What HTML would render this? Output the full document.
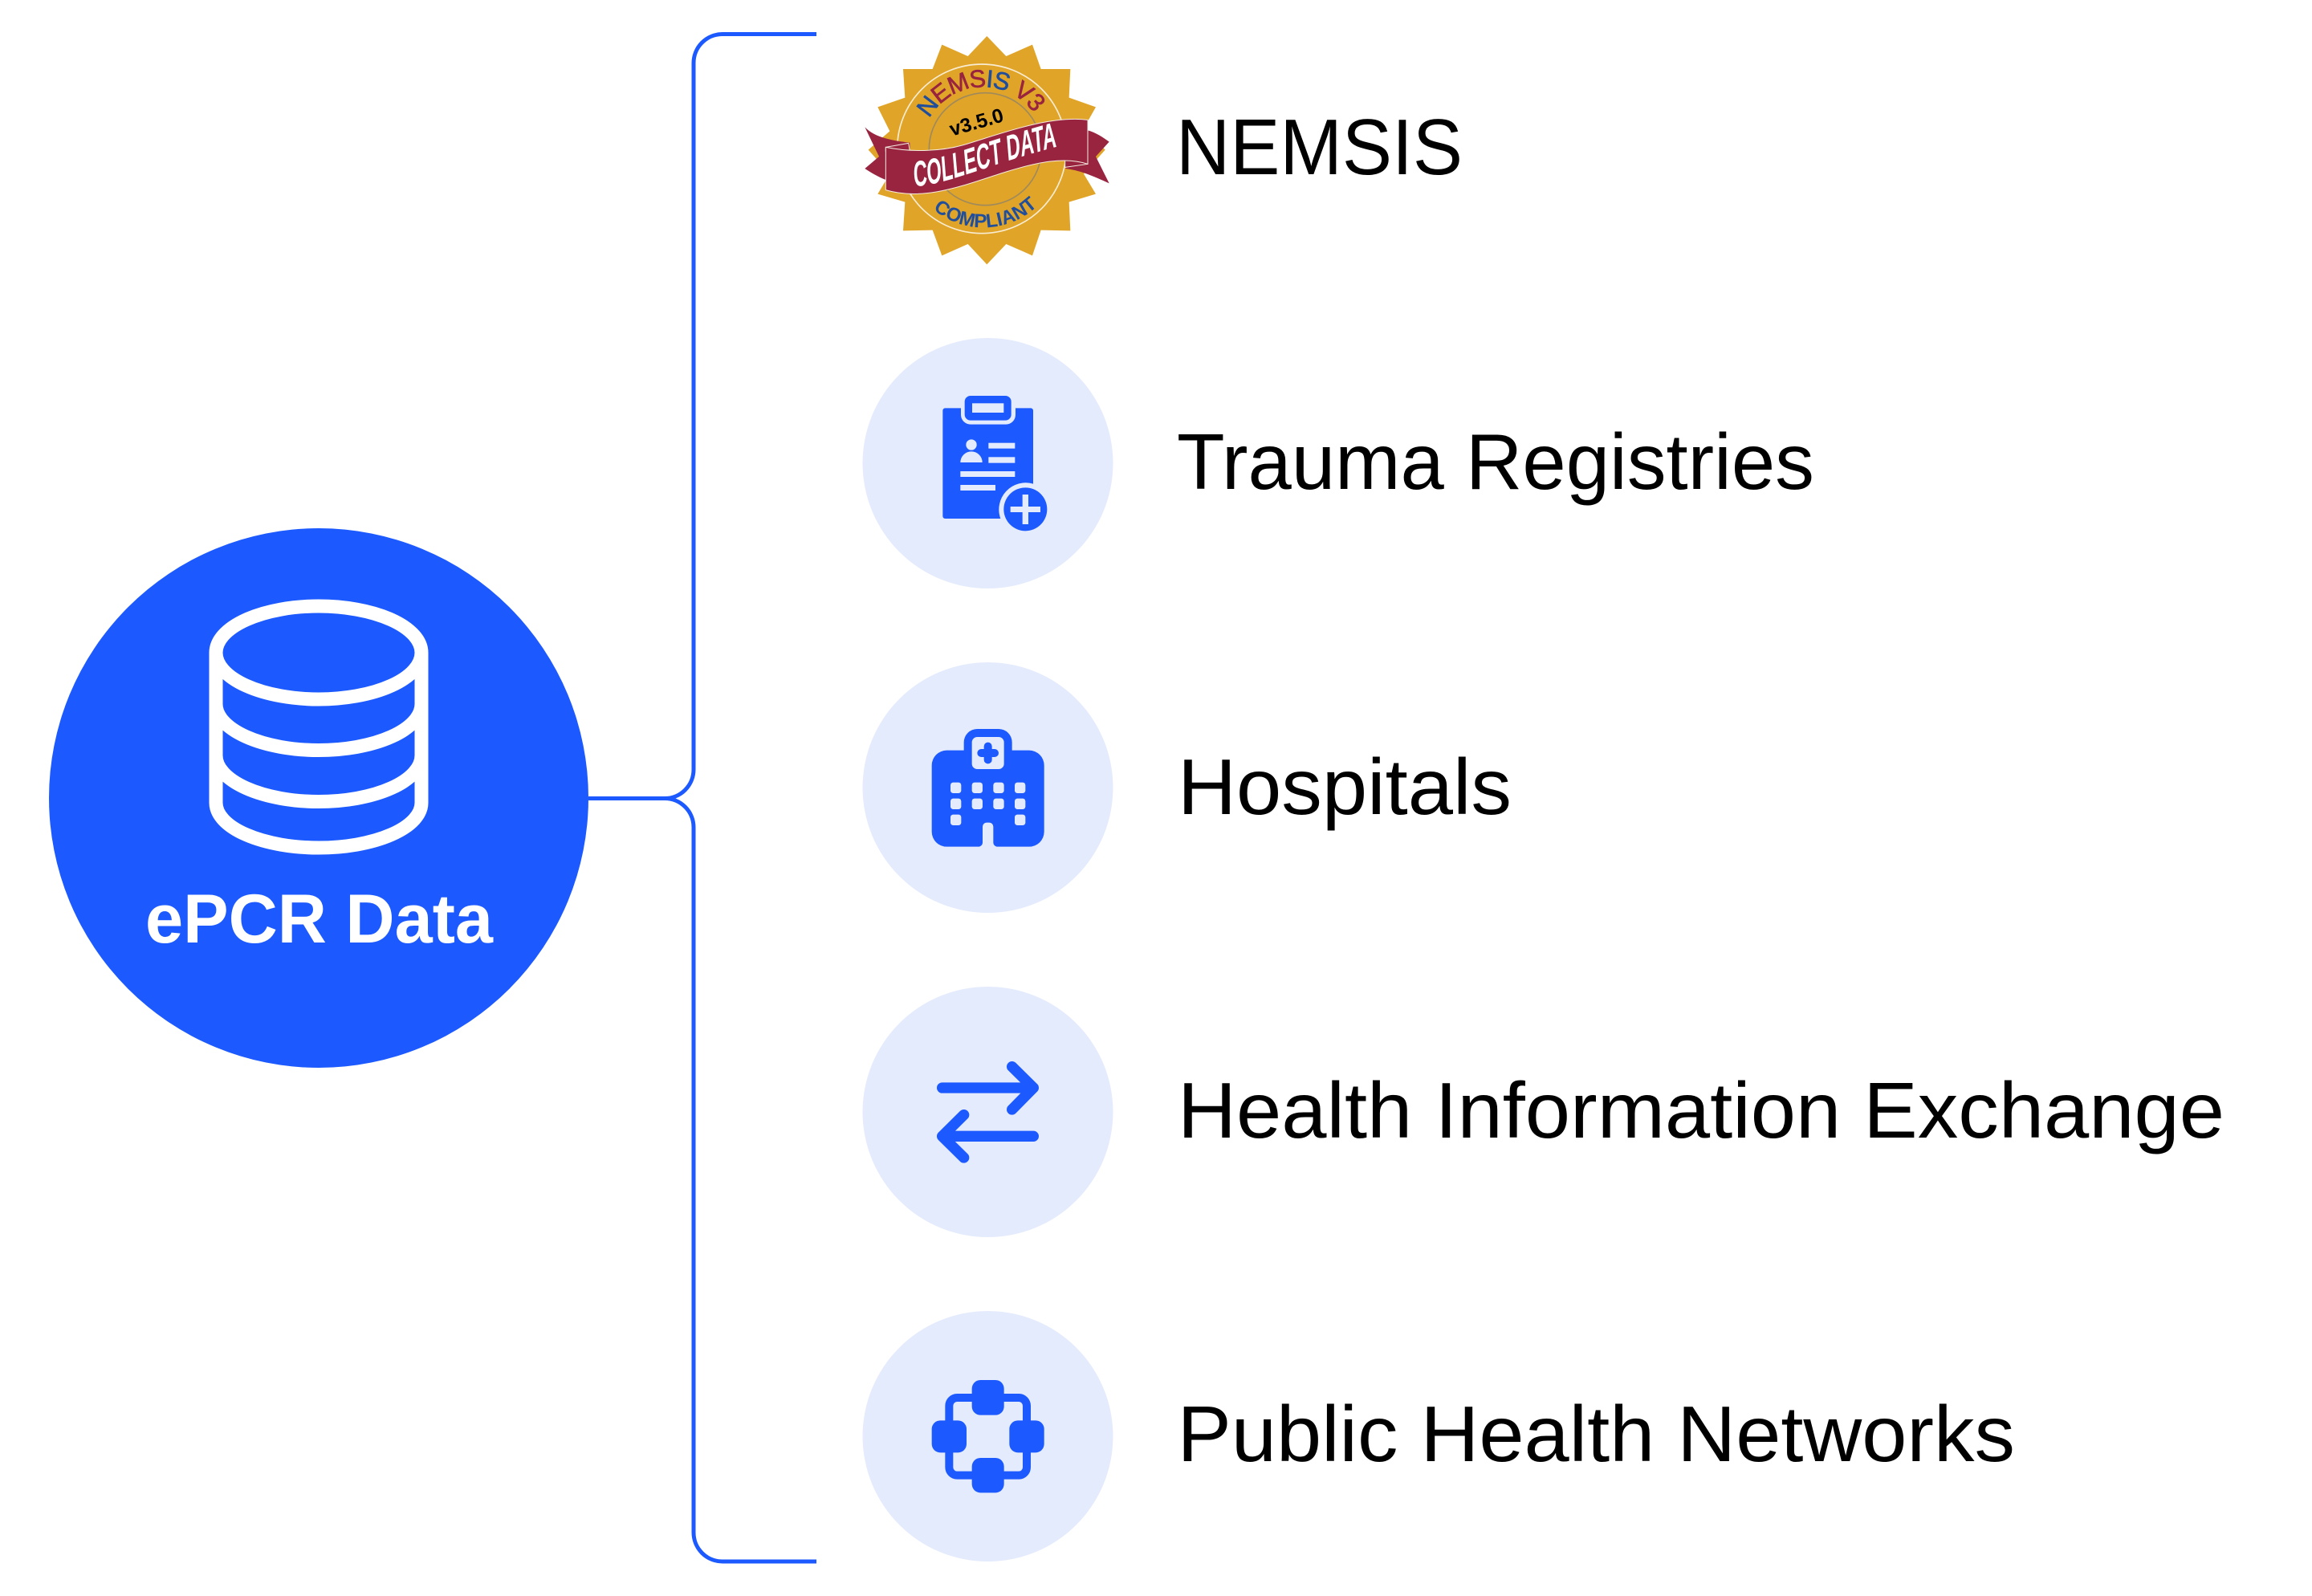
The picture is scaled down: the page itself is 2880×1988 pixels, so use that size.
<!DOCTYPE html>
<html lang="en">
<head>
<meta charset="utf-8">
<title>ePCR Data</title>
<style>
html,body{margin:0;padding:0;background:#fff;width:2880px;height:1988px;overflow:hidden}
svg{display:block}
text{font-family:"Liberation Sans",sans-serif}
</style>
</head>
<body>
<svg xmlns="http://www.w3.org/2000/svg" width="2880" height="1988" viewBox="0 0 2880 1988">
<rect width="2880" height="1988" fill="#fff"/>

<!-- Connectors -->
<g fill="none" stroke="#1c5aff" stroke-width="5">
  <path d="M1017 42.5H900a36 36 0 0 0-36 36V958.5a36 36 0 0 1-36 36H733"/>
  <path d="M1017 1945H900a36 36 0 0 1-36-36V1030.5a36 36 0 0 0-36-36"/>
</g>

<!-- Main node -->
<circle cx="397" cy="994" r="336" fill="#1c5aff"/>
<g fill="none" stroke="#fff" stroke-width="17">
  <ellipse cx="397" cy="813" rx="128" ry="58"/>
  <path d="M269 813V1000a128 56 0 0 0 256 0V813"/>
  <path d="M269 877a128 57.5 0 0 0 256 0"/>
  <path d="M269 941a128 57.5 0 0 0 256 0"/>
</g>
<text x="181" y="1174" font-size="86" font-weight="700" fill="#fff" textLength="433" lengthAdjust="spacingAndGlyphs">ePCR Data</text>

<!-- NEMSIS badge -->
<g transform="translate(1040 20) scale(.33333)">
  <path fill="#e0a428" d="M568 75L640 150L738 107L770 198L880 198L875 305L975 340L930 420L1010 500L930 590L975 665L875 695L880 802L770 800L738 895L640 852L568 928L497 852L400 895L365 800L255 802L262 695L160 665L205 590L125 500L205 430L160 340L262 305L255 198L365 198L400 107L497 150Z"/>
  <circle cx="549" cy="496" r="316" fill="none" stroke="#f8ecd2" stroke-width="5"/>
  <circle cx="562" cy="497" r="210" fill="#e0a428" stroke="#a08a5c" stroke-width="5"/>
  <defs>
    <path id="arcTop" d="M323 497A232 232 0 0 1 787 497"/>
    <path id="arcBot" d="M262 497A293 293 0 0 0 848 497"/>
    <path id="ribbonBase" d="M562 637C819 627 1028 565 1581 488"/>
  </defs>
  <text font-size="92" letter-spacing="-3" stroke-width="2"><textPath href="#arcTop" startOffset="119"><tspan fill="#1f4e9c" stroke="#1f4e9c">N</tspan><tspan fill="#98243f" stroke="#98243f">EMS</tspan><tspan fill="#1f4e9c" stroke="#1f4e9c">IS</tspan><tspan fill="#98243f" stroke="#98243f"> V3</tspan></textPath></text>
  <text font-size="72" font-weight="700" fill="#1f4e9c"><textPath href="#arcBot" startOffset="256">COMPLIANT</textPath></text>
  <text transform="translate(437 449) rotate(-16)" font-size="74" font-weight="700" fill="#000">v3.5.0</text>
  <path fill="#98243f" d="M112 415C150 455 215 465 280 473V600L190 612C160 600 135 585 112 570L165 525Z"/>
  <path fill="#98243f" d="M945 427C975 435 1005 455 1025 470L975 525L1025 625C960 595 910 575 860 570L945 500Z"/>
  <path fill="#98243f" stroke="#f4ebe0" stroke-width="3" d="M190 490L275 475L280 505L190 505Z"/>
  <path fill="#98243f" stroke="#f4ebe0" stroke-width="3" d="M860 565L945 553L945 530L860 530Z"/>
  <path fill="#98243f" stroke="#f4ebe0" stroke-width="3" d="M190 490C290 510 400 505 480 482C620 440 800 370 945 388V553C860 525 760 545 640 582C500 625 340 695 190 650Z"/>
  <g transform="scale(.525 1)">
    <text font-size="135" font-weight="700" fill="#fff"><textPath href="#ribbonBase">COLLECT DATA</textPath></text>
  </g>
</g>
<text x="1465" y="217" font-size="98" fill="#000" textLength="357" lengthAdjust="spacingAndGlyphs">NEMSIS</text>

<!-- Trauma Registries -->
<circle cx="1230.5" cy="577" r="156" fill="#e4ebfd"/>
<g transform="translate(1060 410) scale(.33333)">
  <path fill="#1c5aff" d="M352 295H411V320a36 36 0 0 0 36 36H579a36 36 0 0 0 36-36V295H672a9 9 0 0 1 9 9V578A100 100 0 0 0 559 708H352a9 9 0 0 1-9-9V304a9 9 0 0 1 9-9Z"/>
  <rect x="425" y="249" width="174" height="92" rx="22" fill="#1c5aff"/>
  <rect x="453" y="277" width="118" height="35" fill="#e4ebfd"/>
  <g fill="#e4ebfd">
    <circle cx="450" cy="432" r="20"/>
    <path d="M409 498a41 41 0 0 1 82 0Z"/>
    <rect x="514" y="425" width="99" height="21"/>
    <rect x="514" y="478" width="99" height="22"/>
    <rect x="409" y="531" width="204" height="21"/>
    <rect x="409" y="582" width="131" height="21"/>
  </g>
  <circle cx="652" cy="673" r="81" fill="#1c5aff"/>
  <rect x="641" y="618" width="22" height="111" fill="#e4ebfd"/>
  <rect x="596" y="663" width="112" height="21" fill="#e4ebfd"/>
</g>
<text x="1466" y="609" font-size="98" fill="#000" textLength="794" lengthAdjust="spacingAndGlyphs">Trauma Registries</text>

<!-- Hospitals -->
<circle cx="1230.5" cy="981" r="156" fill="#e4ebfd"/>
<g transform="translate(1060 820) scale(.33333)">
  <path fill="#1c5aff" d="M358 344H422V314a50 50 0 0 1 50-50H552a50 50 0 0 1 50 50V344H666a56 56 0 0 1 56 56V648a56 56 0 0 1-56 56H548a16 16 0 0 1-16-16V629a15 15 0 0 0-15-15H507a15 15 0 0 0-15 15V688a16 16 0 0 1-16 16H358a56 56 0 0 1-56-56V400a56 56 0 0 1 56-56Z"/>
  <rect x="452" y="294" width="120" height="120" rx="20" fill="#e4ebfd"/>
  <rect x="497" y="314" width="30" height="80" rx="15" fill="#1c5aff"/>
  <rect x="472" y="339" width="80" height="30" rx="15" fill="#1c5aff"/>
  <g fill="#e4ebfd">
    <rect x="372" y="464" width="40" height="40" rx="10"/>
    <rect x="452" y="464" width="40" height="40" rx="10"/>
    <rect x="532" y="464" width="40" height="40" rx="10"/>
    <rect x="612" y="464" width="40" height="40" rx="10"/>
    <rect x="372" y="524" width="40" height="40" rx="10"/>
    <rect x="452" y="524" width="40" height="40" rx="10"/>
    <rect x="532" y="524" width="40" height="40" rx="10"/>
    <rect x="612" y="524" width="40" height="40" rx="10"/>
    <rect x="372" y="584" width="40" height="40" rx="10"/>
    <rect x="612" y="584" width="40" height="40" rx="10"/>
  </g>
</g>
<text x="1467" y="1014" font-size="98" fill="#000" textLength="416" lengthAdjust="spacingAndGlyphs">Hospitals</text>

<!-- Health Information Exchange -->
<circle cx="1230.5" cy="1385" r="156" fill="#e4ebfd"/>
<g transform="translate(1060 1230) scale(.33333)" fill="none" stroke="#1c5aff" stroke-width="40" stroke-linecap="round" stroke-linejoin="round">
  <path d="M341 375H682M602 296L682 375L602 456"/>
  <path d="M682 556H341M422 476L341 556L422 636"/>
</g>
<text x="1467" y="1417" font-size="98" fill="#000" textLength="1304" lengthAdjust="spacingAndGlyphs">Health Information Exchange</text>

<!-- Public Health Networks -->
<circle cx="1230.5" cy="1789" r="156" fill="#e4ebfd"/>
<g transform="translate(1060 1630) scale(.33333)">
  <rect x="367" y="333" width="290" height="290" rx="30" fill="none" stroke="#1c5aff" stroke-width="30"/>
  <g fill="#1c5aff">
    <rect x="452" y="267" width="120" height="131" rx="32"/>
    <rect x="452" y="558" width="120" height="130" rx="32"/>
    <rect x="302" y="418" width="130" height="120" rx="32"/>
    <rect x="592" y="418" width="130" height="120" rx="32"/>
  </g>
</g>
<text x="1466.5" y="1820" font-size="98" fill="#000" textLength="1043.5" lengthAdjust="spacingAndGlyphs">Public Health Networks</text>
</svg>
</body>
</html>
